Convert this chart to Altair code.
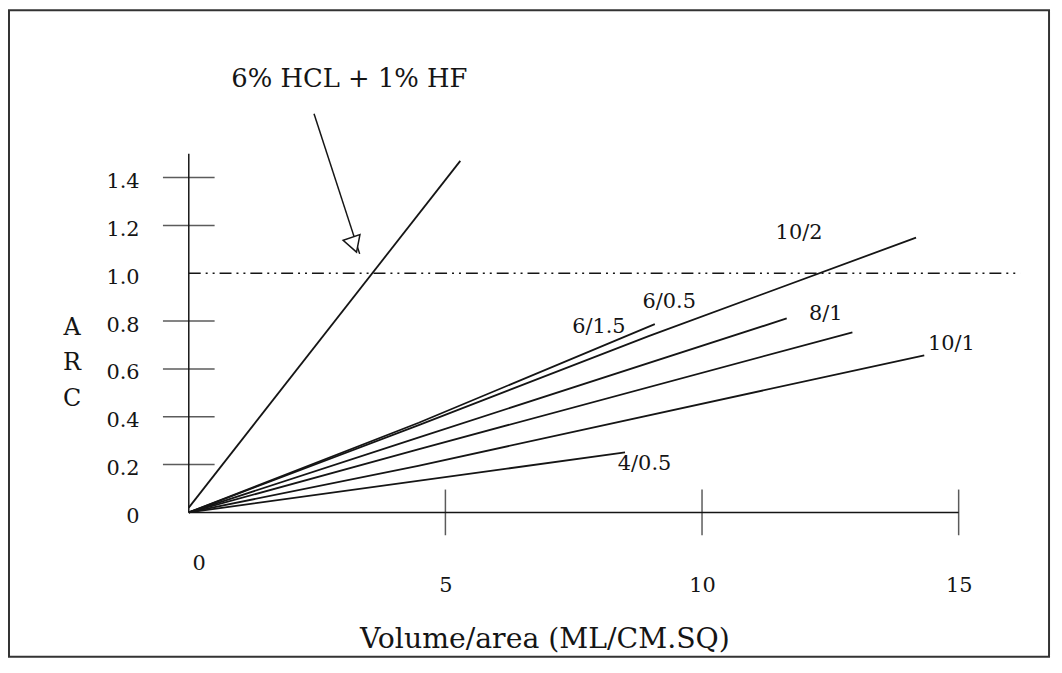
import altair as alt
import pandas as pd

# ---- data (x = volume/area, y = ARC) ----
hcl_x = [0.0, 5.29]
hcl_y = [0.02, 1.47]
s615_x = [0.0, 4.48, 9.08]
s615_y = [0.0, 0.375, 0.787]
s102_x = [0.0, 4.48, 8.96, 14.17]
s102_y = [0.0, 0.365, 0.737, 1.149]
s605_x = [0.0, 4.47, 11.65]
s605_y = [0.0, 0.313, 0.811]
s81_x = [0.0, 4.47, 12.93]
s81_y = [0.0, 0.264, 0.753]
s101_x = [0.0, 4.47, 14.33]
s101_y = [0.0, 0.195, 0.657]
s405_x = [0.0, 6.2, 8.5]
s405_y = [0.0, 0.183, 0.251]

ref_x = [0.0, 16.2]          # dash-dot ARC = 1.0 line
ref_y = [1.0, 1.0]

y_axis_top = 1.5
x_axis_end = 15
y_tick_vals = [0.2, 0.4, 0.6, 0.8, 1.2, 1.4]
x_tick_vals = [5, 10, 15]
y_label_vals = [0, 0.2, 0.4, 0.6, 0.8, 1.0, 1.2, 1.4]
x_label_vals = [0, 5, 10, 15]

label_text = ["6/1.5", "6/0.5", "10/2", "8/1", "10/1", "4/0.5"]
label_x = [7.99, 9.36, 11.89, 12.41, 14.86, 8.88]
label_y = [0.773, 0.878, 1.17, 0.830, 0.705, 0.204]

note_text = ["6% HCL + 1% HF"]
note_x = [3.13]
note_y = [1.811]
arrow_x = [2.44, 3.33]
arrow_y = [1.667, 1.081]
head_x = [3.22]
head_y = [1.119]

# ---- tables ----
series = [
    ("6% HCL + 1% HF", hcl_x, hcl_y),
    ("6/1.5", s615_x, s615_y),
    ("10/2", s102_x, s102_y),
    ("6/0.5", s605_x, s605_y),
    ("8/1", s81_x, s81_y),
    ("10/1", s101_x, s101_y),
    ("4/0.5", s405_x, s405_y),
]
rows = []
for name, xs, ys in series:
    for xv, yv in zip(xs, ys):
        rows.append({"series": name, "x": xv, "y": yv})
df_lines = pd.DataFrame(rows)
df_ref = pd.DataFrame({"x": ref_x, "y": ref_y})
df_axes = pd.DataFrame({
    "series": ["y", "y", "x", "x"],
    "x": [0, 0, 0, x_axis_end],
    "y": [0, y_axis_top, 0, 0],
})
df_yt = pd.DataFrame({"x": [0] * len(y_tick_vals), "y": y_tick_vals})
df_xt = pd.DataFrame({"x": x_tick_vals, "y": [0] * len(x_tick_vals)})
df_lab = pd.DataFrame({"x": label_x, "y": label_y, "t": label_text})
df_note = pd.DataFrame({"x": note_x, "y": note_y, "t": note_text})
df_arrow = pd.DataFrame({"x": arrow_x, "y": arrow_y})
df_head = pd.DataFrame({"x": head_x, "y": head_y})

FONT = "DejaVu Serif"
INK = "#151515"

xscale = alt.Scale(domain=[-3.503, 16.761], nice=False, zero=False)
yscale = alt.Scale(domain=[-0.604, 2.1], nice=False, zero=False)

xaxis = alt.Axis(
    values=x_label_vals, orient="bottom", offset=-145, grid=False,
    domain=False, ticks=False, tickSize=0,
    labelPadding={"condition": {"test": "datum.value == 0", "value": 40}, "value": 62},
    labelOffset={"condition": {"test": "datum.value == 0", "value": 10}, "value": 0},
    labelFont=FONT, labelFontSize=21, labelColor=INK, labelFlush=False,
    labelOverlap=False,
    title="Volume/area (ML/CM.SQ)", titleFont=FONT, titleFontSize=28.5,
    titleFontWeight="normal", titleColor=INK, titleX=539, titleY=127,
    titleBaseline="middle", titleAlign="center",
)
yaxis = alt.Axis(
    values=y_label_vals, orient="left", offset=-181, grid=False,
    domain=False, ticks=False, tickSize=0, labelPadding=50, labelOffset=4,
    labelExpr="datum.value == 0 ? '0' : format(datum.value, '.1f')",
    labelFont=FONT, labelFontSize=21, labelColor=INK, labelFlush=False,
    labelOverlap=False, labelBaseline="middle",
    title=["A", "R", "C"], titleFont=FONT, titleFontSize=24,
    titleFontWeight="normal", titleColor=INK, titleAngle=0,
    titleX=-118, titleY=307, titleBaseline="top", titleAlign="center",
    titleLineHeight=36,
)


def X():
    return alt.X("x:Q", scale=xscale, axis=xaxis)


def Y():
    return alt.Y("y:Q", scale=yscale, axis=yaxis)


lines = alt.Chart(df_lines).mark_line(color=INK, strokeWidth=1.8).encode(
    x=X(), y=Y(), detail="series:N")
ref = alt.Chart(df_ref).mark_line(
    color=INK, strokeWidth=1.6, strokeDash=[12, 5, 2, 5, 2, 5]).encode(x=X(), y=Y())
axes = alt.Chart(df_axes).mark_line(color=INK, strokeWidth=1.5).encode(
    x=X(), y=Y(), detail="series:N")
yt = alt.Chart(df_yt).mark_tick(
    orient="horizontal", size=52, thickness=1.5, color=INK).encode(x=X(), y=Y())
xt = alt.Chart(df_xt).mark_tick(
    orient="vertical", size=46, thickness=1.5, color=INK).encode(x=X(), y=Y())
labs = alt.Chart(df_lab).mark_text(
    font=FONT, fontSize=21, color=INK, align="center", baseline="middle").encode(
    x=X(), y=Y(), text="t:N")
note = alt.Chart(df_note).mark_text(
    font=FONT, fontSize=26, color=INK, align="center", baseline="middle").encode(
    x=X(), y=Y(), text="t:N")
arrow = alt.Chart(df_arrow).mark_line(color=INK, strokeWidth=1.5).encode(x=X(), y=Y())
head = alt.Chart(df_head).mark_point(
    shape="triangle-down", size=320, angle=341, filled=True, fill="white",
    stroke=INK, strokeWidth=1.5, opacity=1).encode(x=X(), y=Y())

chart = alt.layer(ref, axes, yt, xt, lines, arrow, head, labs, note).properties(
    width=1047, height=651,
    autosize=alt.AutoSizeParams(type="none"),
    padding={"left": 1, "top": 0, "right": 5, "bottom": 5},
    background="white",
).configure_view(stroke="#333333", strokeWidth=2)

chart.save("out.html", embed_options={"renderer": "svg", "actions": False})
